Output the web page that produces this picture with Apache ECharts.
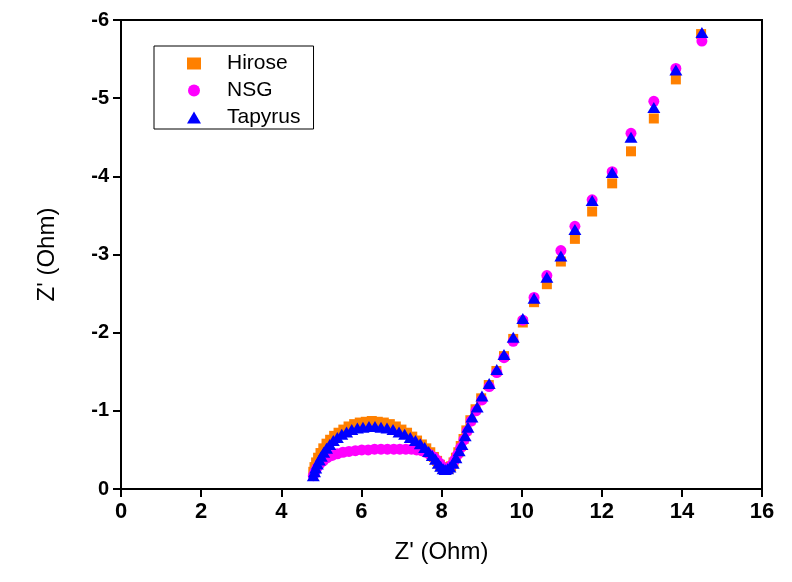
<!DOCTYPE html>
<html><head><meta charset="utf-8">
<script src="https://cdn.jsdelivr.net/npm/echarts@6/dist/echarts.min.js"></script>
<style>html,body{margin:0;padding:0;background:#fff}#c{width:792px;height:582px}</style>
</head><body><div id="c"></div>
<script>
// Nyquist data: Z' (Ohm) and Z'' (Ohm, negative = capacitive)
const hiroseRe = [4.80,4.83,4.87,4.92,4.98,5.05,5.13,5.22,5.32,5.43,5.55,5.68,5.82,5.96,6.11,6.26,6.41,6.56,6.71,6.86,7.00,7.14,7.27,7.39,7.51,7.62,7.72,7.81,7.89,7.96,8.02,8.08,8.13,8.18,8.24,8.30,8.36,8.42,8.48,8.55,8.62,8.72,8.85,8.99,9.18,9.37,9.56,9.79,10.03,10.31,10.63,10.98,11.33,11.76,12.26,12.73,13.30,13.85,14.48];
const hiroseIm = [-0.22,-0.28,-0.34,-0.40,-0.46,-0.52,-0.58,-0.63,-0.68,-0.72,-0.76,-0.80,-0.83,-0.85,-0.86,-0.87,-0.86,-0.85,-0.83,-0.80,-0.76,-0.72,-0.67,-0.62,-0.57,-0.52,-0.47,-0.41,-0.36,-0.31,-0.28,-0.26,-0.25,-0.26,-0.29,-0.34,-0.40,-0.47,-0.55,-0.64,-0.75,-0.88,-1.02,-1.16,-1.33,-1.51,-1.70,-1.92,-2.13,-2.39,-2.62,-2.91,-3.20,-3.55,-3.91,-4.32,-4.74,-5.24,-5.82];
const nsgRe = [4.80,4.84,4.89,4.96,5.05,5.15,5.27,5.40,5.54,5.69,5.85,6.01,6.17,6.33,6.49,6.65,6.81,6.96,7.11,7.25,7.38,7.50,7.61,7.71,7.80,7.88,7.95,8.01,8.07,8.13,8.19,8.26,8.33,8.40,8.48,8.56,8.64,8.74,8.86,9.01,9.19,9.38,9.56,9.79,10.03,10.31,10.63,10.98,11.33,11.76,12.26,12.73,13.30,13.85,14.50];
const nsgIm = [-0.17,-0.22,-0.27,-0.32,-0.36,-0.40,-0.43,-0.45,-0.47,-0.48,-0.49,-0.50,-0.50,-0.51,-0.51,-0.51,-0.51,-0.51,-0.51,-0.51,-0.50,-0.49,-0.47,-0.44,-0.41,-0.37,-0.33,-0.29,-0.26,-0.25,-0.27,-0.31,-0.37,-0.44,-0.53,-0.63,-0.74,-0.87,-1.00,-1.14,-1.31,-1.49,-1.68,-1.89,-2.16,-2.45,-2.73,-3.05,-3.36,-3.70,-4.06,-4.55,-4.96,-5.38,-5.73];
const tapyrusRe = [4.80,4.83,4.86,4.90,4.95,5.00,5.06,5.13,5.21,5.30,5.40,5.51,5.63,5.76,5.90,6.04,6.19,6.34,6.49,6.64,6.79,6.94,7.08,7.22,7.35,7.47,7.58,7.68,7.77,7.85,7.92,7.98,8.04,8.09,8.15,8.21,8.29,8.36,8.44,8.51,8.59,8.66,8.76,8.89,9.01,9.19,9.38,9.56,9.79,10.03,10.31,10.63,10.98,11.33,11.76,12.26,12.73,13.30,13.85,14.50];
const tapyrusIm = [-0.17,-0.22,-0.27,-0.32,-0.37,-0.42,-0.47,-0.52,-0.57,-0.62,-0.66,-0.70,-0.73,-0.76,-0.78,-0.79,-0.80,-0.80,-0.79,-0.78,-0.76,-0.73,-0.70,-0.66,-0.62,-0.58,-0.53,-0.48,-0.43,-0.38,-0.33,-0.29,-0.26,-0.25,-0.26,-0.28,-0.33,-0.40,-0.49,-0.57,-0.68,-0.79,-0.92,-1.05,-1.19,-1.35,-1.53,-1.72,-1.94,-2.18,-2.44,-2.71,-2.98,-3.32,-3.69,-4.05,-4.50,-4.88,-5.36,-5.84];
const seriesNames = ['Hirose','NSG','Tapyrus'];
const xTicks = {min:0, max:16, interval:2};
const yTicks = {min:-6, max:0, interval:1};

const zip = (a,b) => a.map((v,i)=>[v,b[i]]);
const font = 'Arial, "Liberation Sans", sans-serif';
const chart = echarts.init(document.getElementById('c'), null, {renderer:'canvas'});
chart.setOption({
  animation:false,
  backgroundColor:'#fff',
  grid:{left:121, right:30, top:20, bottom:93, show:true, borderColor:'#000', borderWidth:2, containLabel:false},
  legend:{
    left:154, top:46, orient:'vertical',
    data:seriesNames,
    itemWidth:14, itemHeight:12, itemGap:6,
    padding:[7,13,1,33],
    borderColor:'#000', borderWidth:1,
    textStyle:{fontFamily:font, fontSize:21, lineHeight:21, color:'#000', padding:[0,0,0,21]}
  },
  xAxis:{
    type:'value', min:xTicks.min, max:xTicks.max, interval:xTicks.interval,
    name:"Z' (Ohm)", nameLocation:'middle', nameGap:51,
    nameTextStyle:{fontFamily:font, fontSize:24, color:'#000'},
    axisLine:{show:true, onZero:false, lineStyle:{color:'#000', width:2}},
    axisTick:{show:true, inside:false, length:8, lineStyle:{color:'#000', width:2}},
    axisLabel:{fontFamily:font, fontSize:22, fontWeight:'bold', color:'#000', margin:12},
    splitLine:{show:false}
  },
  yAxis:{
    type:'value', min:yTicks.min, max:yTicks.max, interval:yTicks.interval, inverse:true,
    name:"Z' (Ohm)", nameLocation:'middle', nameGap:62, nameRotate:90,
    nameTextStyle:{fontFamily:font, fontSize:24, color:'#000'},
    axisLine:{show:true, onZero:false, lineStyle:{color:'#000', width:2}},
    axisTick:{show:true, inside:false, length:8, lineStyle:{color:'#000', width:2}},
    axisLabel:{fontFamily:font, fontSize:20, fontWeight:'bold', color:'#000', margin:12},
    splitLine:{show:false}
  },
  series:[
    {name:seriesNames[0], type:'scatter', symbol:'rect', symbolSize:10, itemStyle:{color:'#FF8000', opacity:1}, data:zip(hiroseRe,hiroseIm), z:2},
    {name:seriesNames[1], type:'scatter', symbol:'circle', symbolSize:11, itemStyle:{color:'#FF00FF', opacity:1}, data:zip(nsgRe,nsgIm), z:3},
    {name:seriesNames[2], type:'scatter', symbol:'triangle', symbolSize:[13,11], itemStyle:{color:'#0000FF', opacity:1}, data:zip(tapyrusRe,tapyrusIm), z:4}
  ]
});
</script></body></html>
